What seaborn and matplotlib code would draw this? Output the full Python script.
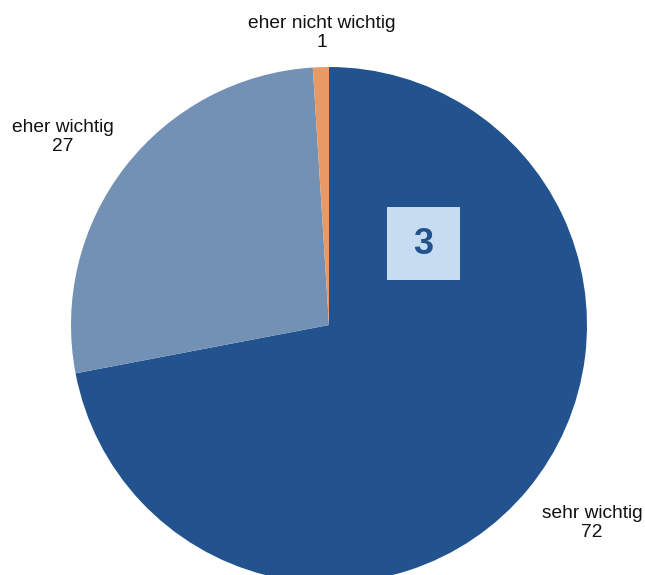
import matplotlib
matplotlib.use("Agg")
import matplotlib.pyplot as plt
import seaborn as sns
from matplotlib.patches import Rectangle

sns.set_theme(style="white")
plt.rcParams["font.family"] = ["Liberation Sans", "DejaVu Sans"]

# Survey answers and their shares (percent)
categories = ["sehr wichtig", "eher wichtig", "eher nicht wichtig"]
values = [72, 27, 1]
colors = ["#23538E", "#7390B5", "#E89A66"]
badge = "3"

W, H = 645, 575
fig = plt.figure(figsize=(W / 100, H / 100), dpi=100)
ax = fig.add_axes([0, 0, 1, 1])

cx, cy, r = 329, 250, 258
ax.pie(values, colors=colors, startangle=90, counterclock=False,
       center=(cx, cy), radius=r, frame=True,
       wedgeprops=dict(linewidth=0))
ax.set_xlim(0, W)
ax.set_ylim(0, H)
ax.set_aspect("equal")
ax.axis("off")

label_pos = {
    "sehr wichtig": (592, 52),
    "eher wichtig": (63, 438),
    "eher nicht wichtig": (322, 542),
}
for cat, val in zip(categories, values):
    x, y = label_pos[cat]
    ax.text(x, y, f"{cat}\n{val}", ha="center", va="center",
            multialignment="center", fontsize=13.8, color="#111111",
            linespacing=1.1)

# Highlight box with the chart number
ax.add_patch(Rectangle((387, 575 - 280), 73, 73, facecolor="#C8DCF1",
                       edgecolor="none", zorder=3))
ax.text(423.5, 575 - 244, badge, ha="center", va="center", fontsize=26,
        fontweight="bold", color="#23538E", zorder=4)

fig.savefig("out.png", dpi=100)
